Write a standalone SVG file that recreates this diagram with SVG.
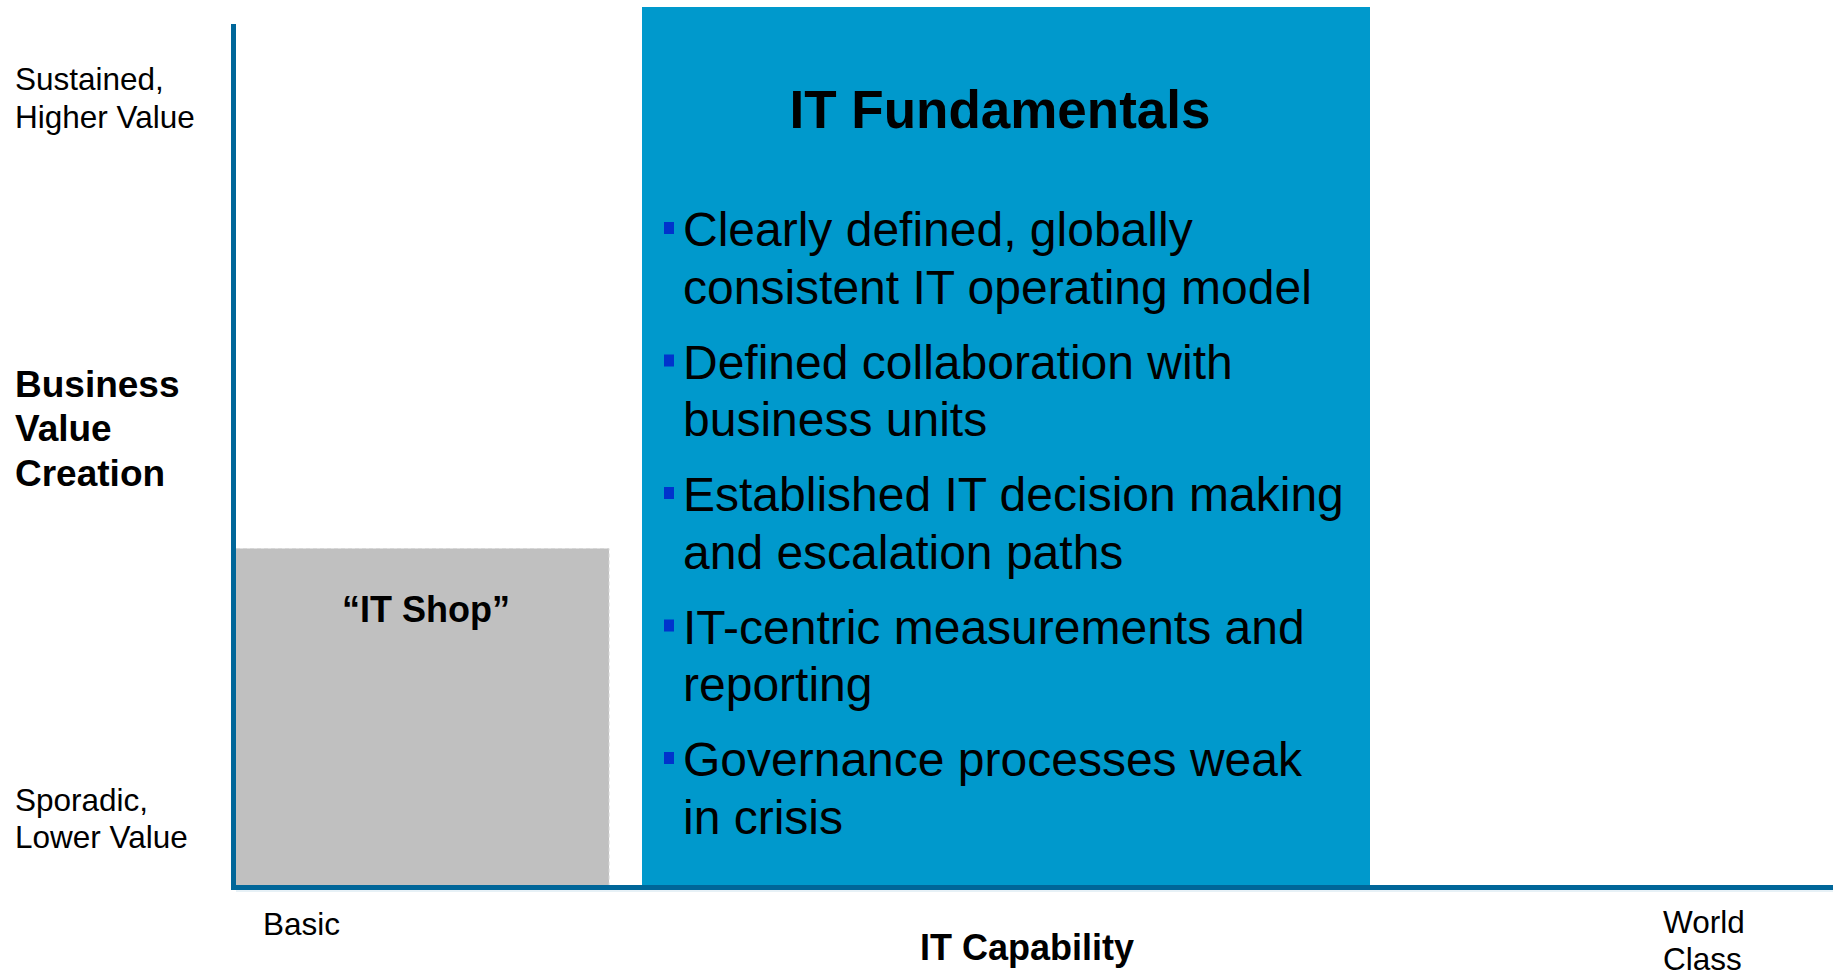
<svg xmlns="http://www.w3.org/2000/svg" width="1833" height="974" viewBox="0 0 1833 974">
  <style>
    text { font-family: "Liberation Sans", Arial, sans-serif; fill: #000; }
    .axis-label { font-size: 31.5px; }
    .axis-title { font-size: 36px; font-weight: bold; }
    .y-title { font-size: 37px; font-weight: bold; }
    .bullet-text { font-size: 48px; }
    .bullet { fill: #0033CC; }
    .axis { stroke: #006699; stroke-width: 5; fill: none; }
  </style>
  <defs>
    <rect id="sq" class="bullet" width="10" height="12"/>
  </defs>
  <rect width="1833" height="974" fill="#ffffff"/>

  <!-- Gray zone: basic capability -->
  <g id="it-shop">
    <rect x="236" y="548.5" width="373" height="337" fill="#C0C0C0"/>
    <path d="M236 548.5 H609 V885" fill="none" stroke="#D6D6D6" stroke-width="1" stroke-dasharray="4 3"/>
    <text x="426" y="622" text-anchor="middle" class="axis-title">“IT Shop”</text>
  </g>

  <!-- Blue zone: IT fundamentals -->
  <g id="it-fundamentals">
    <rect x="642" y="7" width="728" height="879" fill="#0099CC"/>
    <text x="1000" y="127.5" text-anchor="middle" font-size="53" font-weight="bold">IT Fundamentals</text>
    <g class="bullet-text">
      <use href="#sq" x="664" y="222"/>
      <text x="683" y="246">Clearly defined, globally</text>
      <text x="683" y="303.5">consistent IT operating model</text>
      <use href="#sq" x="664" y="354.5"/>
      <text x="683" y="378.5">Defined collaboration with</text>
      <text x="683" y="436">business units</text>
      <use href="#sq" x="664" y="487"/>
      <text x="683" y="511">Established IT decision making</text>
      <text x="683" y="568.5">and escalation paths</text>
      <use href="#sq" x="664" y="619.5"/>
      <text x="683" y="643.5">IT-centric measurements and</text>
      <text x="683" y="701">reporting</text>
      <use href="#sq" x="664" y="752"/>
      <text x="683" y="776">Governance processes weak</text>
      <text x="683" y="833.5">in crisis</text>
    </g>
  </g>

  <!-- Axes -->
  <g id="axes">
    <line x1="233.5" y1="24" x2="233.5" y2="890" class="axis"/>
    <line x1="231" y1="887.5" x2="1833" y2="887.5" class="axis"/>
    <line x1="236" y1="891" x2="1833" y2="891" stroke="#CFE3EE" stroke-width="1"/>
  </g>

  <!-- Vertical axis labels -->
  <g id="y-labels">
    <text x="15" y="90" class="axis-label">Sustained,</text>
    <text x="15" y="127.5" class="axis-label">Higher Value</text>
    <text x="15" y="397" class="y-title">Business</text>
    <text x="15" y="441" class="y-title">Value</text>
    <text x="15" y="485.5" class="y-title">Creation</text>
    <text x="15" y="811" class="axis-label">Sporadic,</text>
    <text x="15" y="848" class="axis-label">Lower Value</text>
  </g>

  <!-- Horizontal axis labels -->
  <g id="x-labels">
    <text x="263" y="935" class="axis-label">Basic</text>
    <text x="1027" y="960" text-anchor="middle" class="axis-title">IT Capability</text>
    <text x="1663" y="933" class="axis-label">World</text>
    <text x="1663" y="970" class="axis-label">Class</text>
  </g>
</svg>
